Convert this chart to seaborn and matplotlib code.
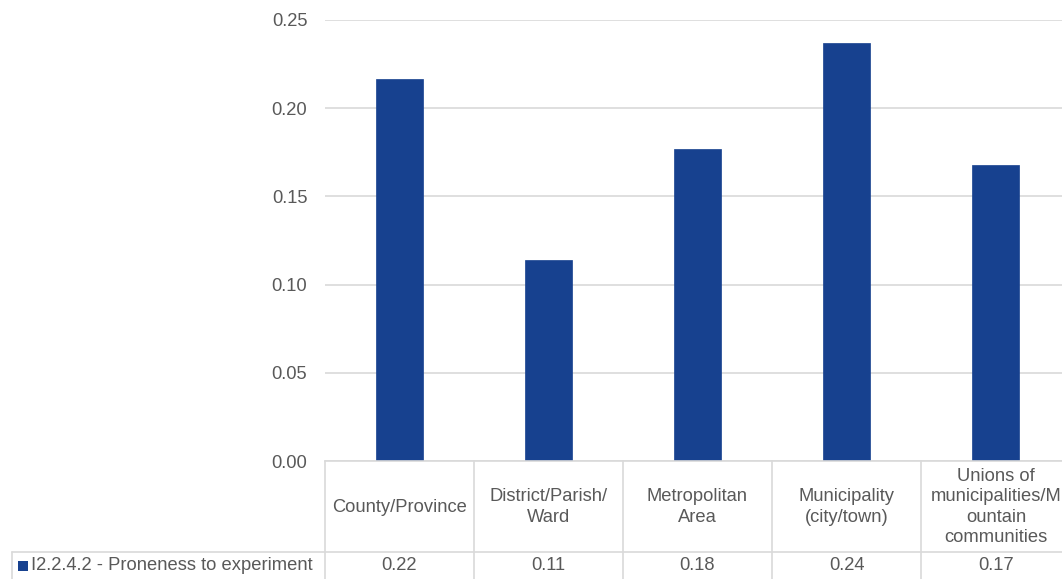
import matplotlib
matplotlib.use("Agg")
import matplotlib.pyplot as plt
import matplotlib.transforms as mtrans
from matplotlib.lines import Line2D
from matplotlib.patches import Rectangle
import seaborn as sns
import pandas as pd

categories = ["County/Province", "District/Parish/\nWard", "Metropolitan\nArea",
              "Municipality\n(city/town)", "Unions of\nmunicipalities/M\nountain\ncommunities"]
values = [0.2164, 0.1139, 0.1769, 0.2371, 0.1679]
series_name = "I2.2.4.2 - Proneness to experiment"
yticks = [0.00, 0.05, 0.10, 0.15, 0.20, 0.25]

BAR = "#17418F"
TXT = "#595959"
GRID = "#D9D9D9"
FS = 13.2

sns.set_theme(style="white")
plt.rcParams['font.family'] = ['Liberation Sans', 'DejaVu Sans']

W, H = 1062, 579
fig = plt.figure(figsize=(W / 100, H / 100), dpi=100)
fig.patch.set_facecolor("white")

# axes in pixel coords
x0, x1 = 324.5, 1070.5
ytop, ybot = 20, 461
ax = fig.add_axes([x0 / W, (H - ybot) / H, (x1 - x0) / W, (ybot - ytop) / H])

df = pd.DataFrame({"cat": categories, "val": values})
sns.barplot(data=df, x="cat", y="val", color=BAR, saturation=1, width=0.315,
            ax=ax, edgecolor=BAR, linewidth=0.5)

ax.set_xlim(-0.5, len(categories) - 0.5)
ax.set_ylim(0, 0.25)
ax.set_yticks(yticks)
ax.set_yticklabels([f"{t:.2f}" for t in yticks], color=TXT, fontsize=FS)
ax.tick_params(axis="y", length=0, pad=12.4)
ax.set_xticks([])
ax.set_xlabel("")
ax.set_ylabel("")
ax.grid(axis="y", color=GRID, linewidth=1.2)
ax.set_axisbelow(True)
for s in ["top", "right", "left"]:
    ax.spines[s].set_visible(False)
ax.spines["bottom"].set_color(GRID)
ax.spines["bottom"].set_linewidth(1.2)

# data table below the axes
axh = ybot - ytop
def yax(py):
    return (ybot - py) / axh

xt = ax.get_xaxis_transform()
bt = mtrans.blended_transform_factory(fig.transFigure, ax.transAxes)
y_sep = yax(552)
y_bot = yax(582)
n = len(categories)

for i in range(n + 1):
    xb = i - 0.5
    ax.add_line(Line2D([xb, xb], [0, y_bot], transform=xt, color=GRID, lw=1.2, clip_on=False))
ax.add_line(Line2D([12 / W, 1.0], [y_sep, y_sep], transform=bt, color=GRID, lw=1.2, clip_on=False))
ax.add_line(Line2D([12 / W, 12 / W], [y_sep, y_bot], transform=bt, color=GRID, lw=1.2, clip_on=False))

y_head = yax(507)
y_row = yax(566)
for i, (c, v) in enumerate(zip(categories, values)):
    ax.text(i, y_head, c, transform=xt, ha="center", va="center", fontsize=FS,
            color=TXT, linespacing=1.27, clip_on=False)
    ax.text(i, y_row, f"{v:.2f}", transform=xt, ha="center", va="center",
            fontsize=FS, color=TXT, clip_on=False)

# legend key + series name
fig.add_artist(Rectangle((18 / W, (H - 571) / H), 10 / W, 10 / H, transform=fig.transFigure,
                         facecolor=BAR, edgecolor="none"))
fig.text(31 / W, (H - 566) / H, series_name, ha="left", va="center", fontsize=FS, color=TXT)

fig.savefig("out.png", dpi=100, facecolor="white")
